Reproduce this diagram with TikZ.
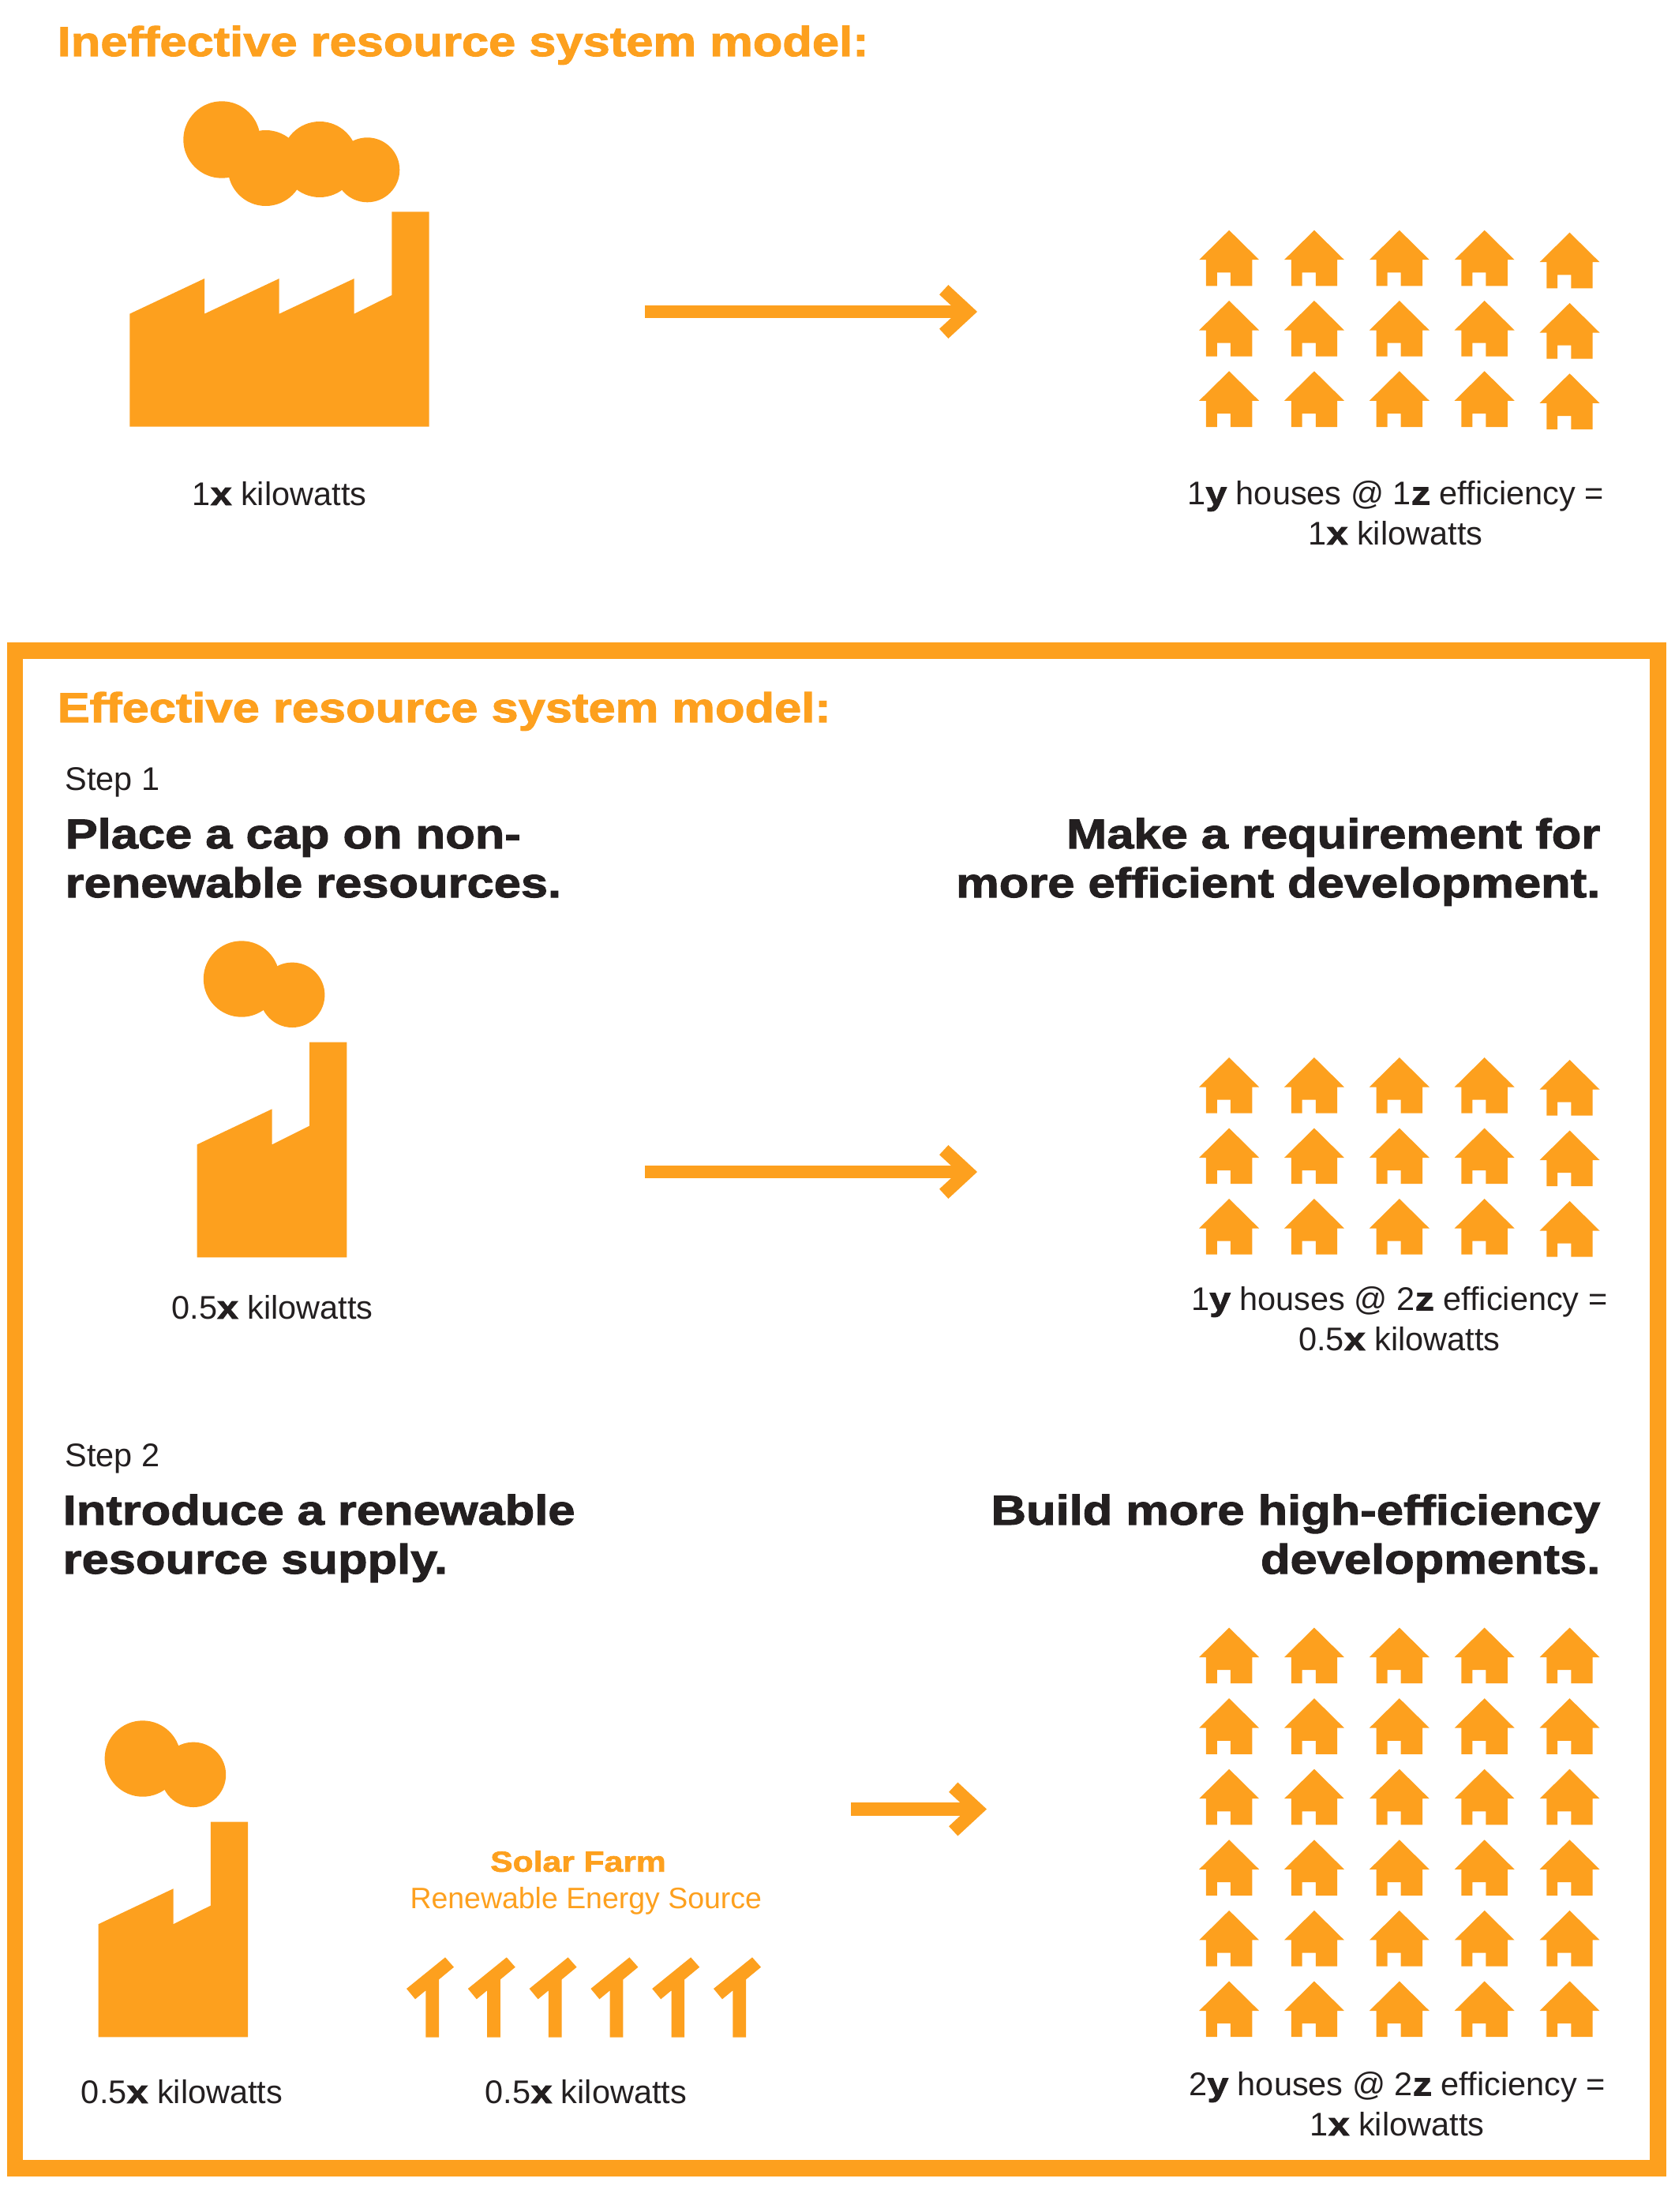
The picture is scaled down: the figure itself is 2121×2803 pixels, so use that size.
\documentclass[tikz,border=0pt]{standalone}
\definecolor{farmorange}{HTML}{FDA01E}
\definecolor{inktext}{HTML}{231F20}
\usepackage{fontspec}
\setmainfont{Liberation Sans}
\newfontfamily\heavyfont[FakeBold=2,FakeStretch=1.165]{Liberation Sans Bold}
\newcommand{\hv}[1]{{\heavyfont #1}}
\usetikzlibrary{arrows.meta}

\begin{document}
\begin{tikzpicture}[
		x=0.01cm, y=-0.01cm,
		heading/.style={text=farmorange, inner sep=0, font=\heavyfont\fontsize{15}{17.6}\selectfont},
		claim/.style={text=inktext, inner sep=0, font=\heavyfont\fontsize{15}{17.64}\selectfont},
		caption/.style={text=inktext, inner sep=0, anchor=base, align=center, font=\fontsize{11.8}{14.4}\selectfont},
		flow/.style={draw=farmorange, line width=0.1667cm, -{Straight Barb[length=0.3cm, width=0.556cm]}},
		house/.pic={
				\fill[farmorange] (0,0) -- (38,37.5) -- (29.2,37.5) -- (29.2,70.7) -- (1.8,70.7) -- (1.8,53.7) -- (-15.3,53.7) -- (-15.3,70.7) -- (-29.2,70.7) -- (-29.2,37.5) -- (-38,37.5) -- cycle;
			},
		stack/.pic={
				\fill[farmorange] (0,0) -- (0,-143) -- (95,-188) -- (95,-143) -- (142.3,-166.6) -- (142.3,-272.6) -- (189.7,-272.6) -- (189.7,0) -- cycle;
				\fill[farmorange] (56.3,-352.8) circle (48.2);
				\fill[farmorange] (120.5,-332.5) circle (41.2);
			},
		panel/.pic={
				\fill[farmorange] (-24.3,-61.7) -- (24.7,-101.4) -- (35.7,-89) -- (16.7,-73.3) -- (16.7,0) -- (0,0) -- (0,-59.4) -- (-13.3,-48.4) -- cycle;
			}
	]
	\useasboundingbox (0,0) rectangle (2121,2803);
	% Outer frame
	\draw[farmorange, line width=0.205cm] (19,824.5) rectangle (2100.5,2747.5);

	% Top model
	\node[heading, anchor=base west] (topheading) at (72,71) {Ineffective resource system model:};
	\fill[farmorange] (164.3,540.7) -- (164.3,397.7) -- (259,353) -- (259,397.7) -- (353.7,353) -- (353.7,397.7) -- (448.7,353) -- (448.7,397.7) -- (496.3,374) -- (496.3,268.3) -- (543.7,268.3) -- (543.7,540.7) -- cycle;
	\fill[farmorange] (281,177) circle (48.7);
	\fill[farmorange] (336.7,213) circle (48);
	\fill[farmorange] (405,202) circle (48);
	\fill[farmorange] (465.3,215.3) circle (41);
	\coordinate (topstart) at (817.3,395);
	\coordinate (topend) at (1238,395);
	\draw[flow] (topstart) -- (topend);
	\foreach \i in {0,...,4} {
			\foreach \j in {0,...,2} {
					\ifnum\i=4
						\pic at (1557.1+\i*107.85, 294.7+\j*89.3) {house};
					\else
						\pic at (1557.1+\i*107.85, 291.7+\j*89.3) {house};
					\fi
				}
		}
	\node[caption] (topsource) at (354,640) {1\hv{x} kilowatts};
	\node[caption] (tophomes) at (1768,690) {1\hv{y} houses @ 1\hv{z} efficiency =\\1\hv{x} kilowatts};

	% Step 1
	\node[heading, anchor=base west] (mainheading) at (72,915) {Effective resource system model:};
	\node[caption, anchor=base west] (stepone) at (82,1001.7) {Step 1};
	\node[claim, anchor=base west, align=left] (capclaim) at (82,1137) {Place a cap on non-\\renewable resources.};
	\node[claim, anchor=base east, align=right] (effclaim) at (2028,1137) {Make a requirement for\\more efficient development.};
	\pic at (249.7,1593.3) {stack};
	\coordinate (midstart) at (817.3,1485);
	\coordinate (midend) at (1238,1485);
	\draw[flow] (midstart) -- (midend);
	\foreach \i in {0,...,4} {
			\foreach \j in {0,...,2} {
					\ifnum\i=4
						\pic at (1557.1+\i*107.85, 1343+\j*89.5) {house};
					\else
						\pic at (1557.1+\i*107.85, 1340+\j*89.5) {house};
					\fi
				}
		}
	\node[caption] (midsource) at (345,1671) {0.5\hv{x} kilowatts};
	\node[caption] (midhomes) at (1772.8,1711) {1\hv{y} houses @ 2\hv{z} efficiency =\\0.5\hv{x} kilowatts};

	% Step 2
	\node[caption, anchor=base west] (steptwo) at (82,1858) {Step 2};
	\node[claim, anchor=base west, align=left] (supplyclaim) at (79,1994) {Introduce a renewable\\resource supply.};
	\node[claim, anchor=base east, align=right] (buildclaim) at (2028,1994) {Build more high-efficiency\\developments.};
	\pic at (124.5,2581.3) {stack};
	\foreach \i in {0,...,5} {
			\pic at (539.3+\i*77.8, 2581.7) {panel};
		}
	\node[text=farmorange, inner sep=0, anchor=base, font=\heavyfont\fontsize{10.4}{12}\selectfont] (farmname) at (732.5,2371.7) {Solar Farm};
	\node[text=farmorange, inner sep=0, anchor=base, font=\fontsize{10.65}{12}\selectfont] (farmkind) at (742.3,2418.3) {Renewable Energy Source};
	\coordinate (lowstart) at (1078,2292.5);
	\coordinate (lowend) at (1250,2292.5);
	\draw[flow] (lowstart) -- (lowend);
	\foreach \i in {0,...,4} {
			\foreach \j in {0,...,5} {
					\pic at (1557.1+\i*107.85, 2062.5+\j*89.6) {house};
				}
		}
	\node[caption] (lowsource) at (230.6,2665) {0.5\hv{x} kilowatts};
	\node[caption] (farmsource) at (742.5,2665) {0.5\hv{x} kilowatts};
	\node[caption] (lowhomes) at (1770,2706) {2\hv{y} houses @ 2\hv{z} efficiency =\\1\hv{x} kilowatts};
\end{tikzpicture}
\end{document}
